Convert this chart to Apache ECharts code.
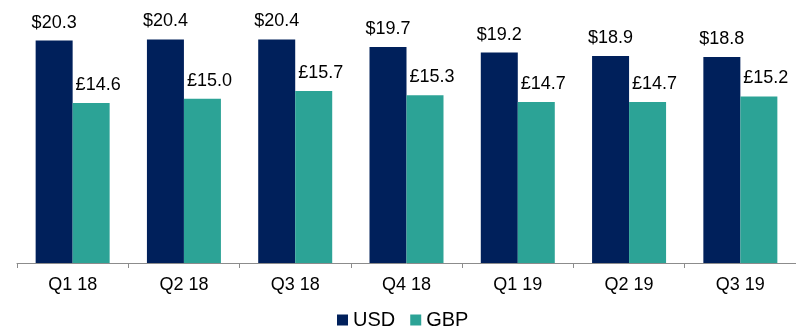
<!DOCTYPE html>
<html>
<head>
<meta charset="utf-8">
<script src="https://cdn.jsdelivr.net/npm/echarts@6/dist/echarts.min.js"></script>
<style>
  html, body { margin: 0; padding: 0; background: #fff; }
  #chart { width: 796px; height: 328px; }
</style>
</head>
<body>
<div id="chart"></div>
<script>
// Quarterly values in USD and GBP
const quarters = ['Q1 18', 'Q2 18', 'Q3 18', 'Q4 18', 'Q1 19', 'Q2 19', 'Q3 19'];
const usdValues = [20.3, 20.4, 20.4, 19.7, 19.2, 18.9, 18.8];
const gbpValues = [14.6, 15.0, 15.7, 15.3, 14.7, 14.7, 15.2];

const FONT = '"Liberation Sans", Arial, sans-serif';
const chart = echarts.init(document.getElementById('chart'));

chart.setOption({
  animation: false,
  textStyle: { fontFamily: FONT },
  grid: { left: 17, width: 782, top: 0, bottom: 65, containLabel: false },
  legend: {
    left: 337,
    top: 310,
    padding: 0,
    icon: 'rect',
    itemWidth: 11,
    itemHeight: 11,
    itemGap: 15,
    textStyle: { fontFamily: FONT, fontSize: 20, color: '#000' },
    data: ['USD', 'GBP']
  },
  xAxis: {
    type: 'category',
    data: quarters,
    axisLine: { lineStyle: { color: '#8c8c8c', width: 1 } },
    axisTick: { show: true, length: 5, lineStyle: { color: '#8c8c8c' } },
    axisLabel: { fontFamily: FONT, fontSize: 18, color: '#000', margin: 13 }
  },
  yAxis: {
    type: 'value',
    min: 0,
    max: 24,
    show: false,
    splitLine: { show: false }
  },
  series: [
    {
      name: 'USD',
      type: 'bar',
      data: usdValues,
      barWidth: 37,
      barGap: '0%',
      itemStyle: { color: '#00205b' },
      label: {
        show: true,
        position: 'top',
        distance: 9,
        fontFamily: FONT,
        fontSize: 18,
        color: '#000',
        formatter: p => '$' + p.value.toFixed(1)
      }
    },
    {
      name: 'GBP',
      type: 'bar',
      data: gbpValues,
      barWidth: 37,
      barGap: '0%',
      itemStyle: { color: '#2ca396' },
      label: {
        show: true,
        position: 'top',
        distance: 9,
        offset: [7, 0],
        fontFamily: FONT,
        fontSize: 18,
        color: '#000',
        formatter: p => '£' + p.value.toFixed(1)
      }
    }
  ]
});
</script>
</body>
</html>
